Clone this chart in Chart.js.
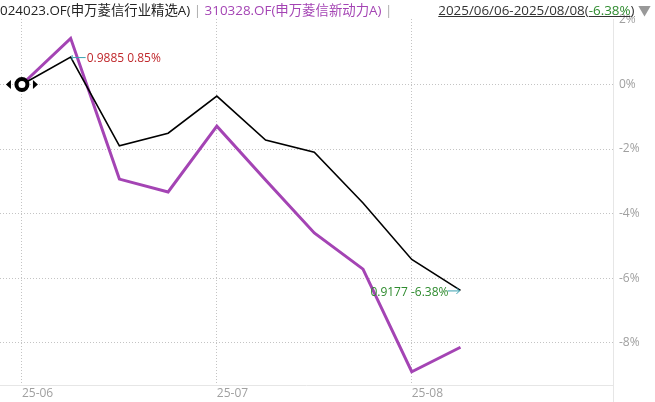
<!DOCTYPE html>
<html><head><meta charset="utf-8">
<script src="https://cdn.jsdelivr.net/npm/chart.js@4/dist/chart.umd.min.js"></script>
<style>
html,body{margin:0;padding:0;background:#fff;}
#wrap{position:relative;width:655px;height:402px;font-family:"Open Sans","Noto Sans CJK SC",sans-serif;}
#hdr{position:absolute;left:0;top:1px;font-size:13.4px;white-space:nowrap;line-height:18px;}
#rng{position:absolute;right:4px;top:1px;font-size:13.4px;white-space:nowrap;line-height:18px;color:#333;}
canvas{position:absolute;left:0;top:0;}
</style></head><body>
<div id="wrap">
<canvas id="c" width="655" height="402"></canvas>
<div id="hdr"><span style="color:#222">024023.OF(申万菱信行业精选A)</span> <span style="color:#aaa">|</span> <span style="color:#a444b4">310328.OF(申万菱信新动力A)</span> <span style="color:#aaa">|</span></div>
<div id="rng"><span style="text-decoration:underline">2025/06/06-2025/08/08(<span style="color:#2e8b2e">-6.38%</span>)</span> <span style="color:#999;font-size:13px">▼</span></div>
</div>
<script>
const dates = ['2025-06-06','2025-06-13','2025-06-20','2025-06-27','2025-07-04','2025-07-11','2025-07-18','2025-07-25','2025-08-01','2025-08-08'];
const seriesA = [0, 0.85, -1.90, -1.51, -0.36, -1.72, -2.10, -3.67, -5.42, -6.38];
const seriesB = [0, 1.43, -2.93, -3.33, -1.29, -2.96, -4.60, -5.72, -8.90, -8.14];
const navA = [null, 0.9885, null, null, null, null, null, null, null, 0.9177];
const xTickIdx = [0, 4, 8];
const xTickLabels = ['25-06', '25-07', '25-08'];
const yTicks = [2, 0, -2, -4, -6, -8];

const axisLines = {
  id: 'axisLines',
  beforeDatasetsDraw(chart) {
    const ctx = chart.ctx, a = chart.chartArea;
    ctx.save();
    ctx.strokeStyle = '#e6e6e6'; ctx.lineWidth = 1;
    ctx.beginPath();
    ctx.moveTo(0, Math.round(a.bottom) + 0.5); ctx.lineTo(a.right, Math.round(a.bottom) + 0.5);
    ctx.moveTo(Math.round(a.right) + 0.5, a.top); ctx.lineTo(Math.round(a.right) + 0.5, 402);
    ctx.stroke();
    ctx.restore();
  }
};

const annot = {
  id: 'annot',
  afterDatasetsDraw(chart) {
    const ctx = chart.ctx, xs = chart.scales.x, ys = chart.scales.y;
    ctx.save();
    const x0 = xs.getPixelForValue(0), y0 = ys.getPixelForValue(seriesA[0]);
    ctx.beginPath(); ctx.arc(x0, y0, 5.5, 0, Math.PI * 2);
    ctx.fillStyle = '#fff'; ctx.fill();
    ctx.lineWidth = 4; ctx.strokeStyle = '#000'; ctx.stroke();
    ctx.fillStyle = '#000';
    ctx.beginPath(); ctx.moveTo(x0 - 16, y0); ctx.lineTo(x0 - 11, y0 - 4.5); ctx.lineTo(x0 - 11, y0 + 4.5); ctx.closePath(); ctx.fill();
    ctx.beginPath(); ctx.moveTo(x0 + 16, y0); ctx.lineTo(x0 + 11, y0 - 4.5); ctx.lineTo(x0 + 11, y0 + 4.5); ctx.closePath(); ctx.fill();
    ctx.font = '12px "Open Sans","Noto Sans CJK SC",sans-serif';
    ctx.textBaseline = 'middle';
    const x1 = xs.getPixelForValue(1), y1 = ys.getPixelForValue(seriesA[1]);
    ctx.strokeStyle = '#3aa0b0'; ctx.lineWidth = 1;
    ctx.beginPath(); ctx.moveTo(x1 + 2, y1 + 0.5); ctx.lineTo(x1 + 15, y1 + 0.5); ctx.stroke();
    ctx.beginPath(); ctx.moveTo(x1 + 1.5, y1 - 2); ctx.lineTo(x1 + 1.5, y1 + 3); ctx.stroke();
    ctx.fillStyle = '#c0282c';
    ctx.textAlign = 'left';
    ctx.fillText(navA[1].toFixed(4) + ' ' + seriesA[1].toFixed(2) + '%', x1 + 16, y1 + 1);
    const x9 = xs.getPixelForValue(9), y9 = ys.getPixelForValue(seriesA[9]);
    ctx.strokeStyle = '#3aa0b0';
    ctx.beginPath(); ctx.moveTo(x9 - 13, y9 + 0.5); ctx.lineTo(x9 - 1, y9 + 0.5);
    ctx.moveTo(x9 - 4, y9 - 2.5); ctx.lineTo(x9 - 1, y9 + 0.5); ctx.lineTo(x9 - 4, y9 + 3.5); ctx.stroke();
    ctx.fillStyle = '#2e8b2e';
    ctx.textAlign = 'right';
    ctx.fillText(navA[9].toFixed(4) + ' ' + seriesA[9].toFixed(2) + '%', x9 - 12, y9 + 2);
    ctx.restore();
  }
};

new Chart(document.getElementById('c'), {
  type: 'line',
  data: {
    labels: dates,
    datasets: [
      { label: '310328.OF', data: seriesB.map((v, i) => ({x: i, y: v})), borderColor: '#a444b4', borderWidth: 3, pointRadius: 0, tension: 0, order: 2 },
      { label: '024023.OF', data: seriesA.map((v, i) => ({x: i, y: v})), borderColor: '#000', borderWidth: 1.6, pointRadius: 0, tension: 0, order: 1 }
    ]
  },
  options: {
    responsive: false, animation: false,
    layout: { padding: { left: 0, top: 19, right: 0, bottom: 0 } },
    plugins: { legend: { display: false }, tooltip: { enabled: false } },
    scales: {
      x: {
        type: 'linear', min: -0.45, max: 12.13,
        afterBuildTicks: s => { s.ticks = xTickIdx.map(v => ({value: v})); },
        afterFit: s => { s.height = 17; },
        ticks: { callback: (v) => xTickLabels[xTickIdx.indexOf(v)], color: '#a0a0a0', font: { size: 12, family: '"Open Sans",sans-serif' }, align: 'start', padding: 1, maxRotation: 0 },
        grid: { color: '#c4c4c4', drawTicks: false, lineWidth: 1 },
        border: { display: false, dash: [1, 2] }
      },
      y: {
        position: 'right', min: -9.31, max: 2.03,
        afterBuildTicks: s => { s.ticks = yTicks.map(v => ({value: v})); },
        afterFit: s => { s.width = 42; },
        ticks: { callback: v => v + '%', color: '#a0a0a0', font: { size: 12, family: '"Open Sans",sans-serif' }, padding: 6 },
        grid: { color: (c) => c.tick && c.tick.value === 2 ? 'rgba(0,0,0,0)' : '#c4c4c4', drawTicks: false, lineWidth: 1 },
        border: { display: false, dash: [1, 2] }
      }
    }
  },
  plugins: [axisLines, annot]
});
</script>
</body></html>
